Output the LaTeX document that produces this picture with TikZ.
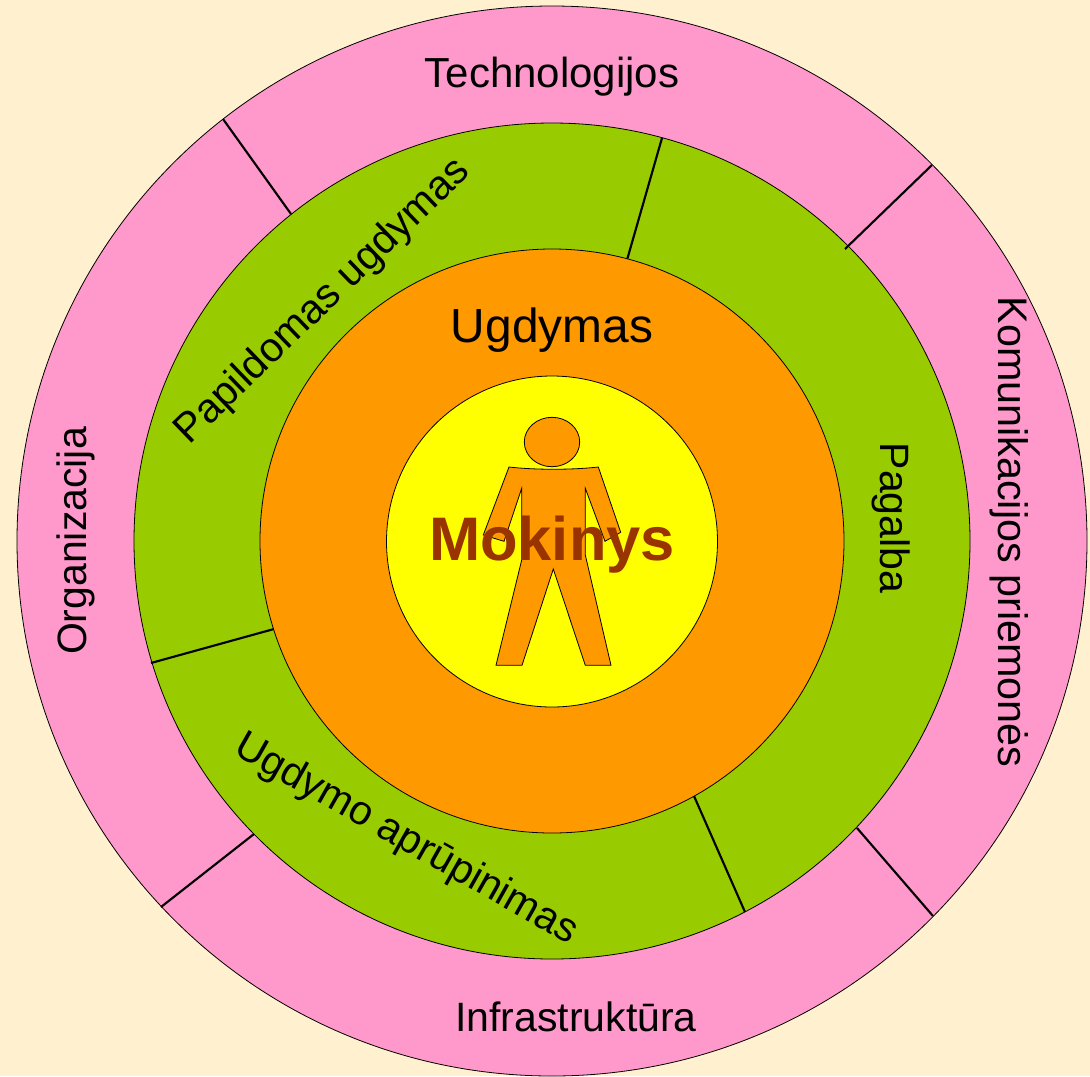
\documentclass[tikz,border=0pt]{standalone}
\usepackage{fontspec}
\setmainfont{Liberation Sans}
\definecolor{bgc}{HTML}{FFF1CF}
\definecolor{pinkc}{HTML}{FF99CC}
\definecolor{greenc}{HTML}{99CC00}
\definecolor{orangec}{HTML}{FF9900}
\definecolor{yellowc}{HTML}{FFFF00}
\definecolor{brownc}{HTML}{993300}
\tikzset{
  ring/.style={draw=black,line width=0.6pt},
  divider/.style={draw=black,line width=1.6pt},
  lab/.style={font=\fontsize{30.75}{36}\selectfont,text=black,inner sep=0pt},
  figure shape/.style={fill=orangec,draw=black,line width=0.6pt,line join=miter}
}
\begin{document}
\begin{tikzpicture}[x=0.75pt,y=-0.75pt]
\path[fill=bgc,use as bounding box] (0,0) rectangle (1090,1076);
\coordinate (c) at (552,541);
\path[ring,fill=pinkc] (c) circle[radius=535*0.75pt];
\path[ring,fill=greenc] (c) circle[radius=418*0.75pt];
\foreach \n/\ax/\ay/\bx/\by in {a/223/119/291/214,b/932/165/845/249,c2/161/907/254/834,d/933/916/857/828}{
  \coordinate (\n1) at (\ax,\ay); \coordinate (\n2) at (\bx,\by);
  \draw[divider] (\n1) -- (\n2);
}
\foreach \n/\ax/\ay/\bx/\by in {e/662/138/627/260,f/151/663/274/629,g/745/912/694/796}{
  \coordinate (\n1) at (\ax,\ay); \coordinate (\n2) at (\bx,\by);
  \draw[divider] (\n1) -- (\n2);
}
\path[ring,fill=orangec] (c) circle[radius=292*0.75pt];
\path[ring,fill=yellowc] (552,541.5) circle[radius=165.5*0.75pt];
% person
\path[figure shape] (552,442) ellipse[x radius=27.7*0.75pt,y radius=24.7*0.75pt];
\path[figure shape] (509,467) .. controls (535,470) and (572,470) .. (598.3,467)
  -- (620.7,532.3) -- (605,541.3) -- (585.3,488.3) -- (585.3,555) -- (611,665.3)
  -- (585.3,665.3) -- (553.3,569) -- (522,665.3) -- (496,665.3) -- (521.7,560)
  -- (521.7,488.3) -- (504,541.3) -- (483.3,535) -- cycle;
\node[lab,font=\fontsize{31.5}{36}\selectfont] (tech) at (552,77) {Technologijos};
\node[lab,font=\fontsize{35.9}{42}\selectfont] (ugd) at (552,330) {Ugdymas};
\node[lab,font=\fontsize{46.1}{52}\selectfont\bfseries,text=brownc] (mok) at (552,545) {Mokinys};
\node[lab,rotate=90] (org) at (76,541) {Organizacija};
\node[lab,rotate=-90] (pag) at (891,518) {Pagalba};
\node[lab,rotate=-90,font=\fontsize{31}{36}\selectfont] (kom) at (1009,532) {Komunikacijos priemonės};
\node[lab] (inf) at (576,1017) {Infrastruktūra};
\node[lab,rotate=44] (pap) at (323,302) {Papildomas ugdymas};
\node[lab,rotate=-29.5] (apr) at (406,840) {Ugdymo aprūpinimas};
\end{tikzpicture}
\end{document}
